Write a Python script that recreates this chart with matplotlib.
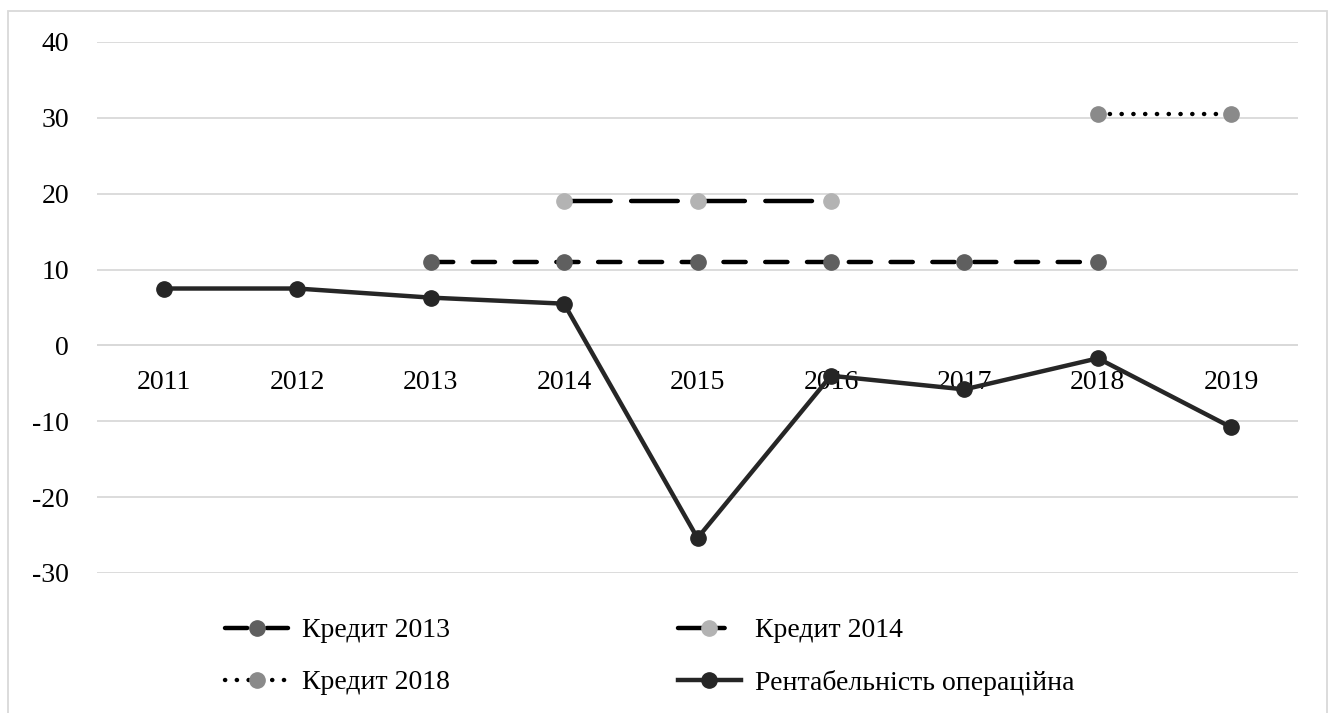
import matplotlib.pyplot as plt
import matplotlib.patches as mpatches

years = ['2011', '2012', '2013', '2014', '2015', '2016', '2017', '2018', '2019']
rent = [7.5, 7.5, 6.3, 5.5, -25.4, -4.0, -5.8, -1.7, -10.8]
credit_2013 = [None, None, 11, 11, 11, 11, 11, 11, None]
credit_2014 = [None, None, None, 19, 19, 19, None, None, None]
credit_2018 = [None, None, None, None, None, None, None, 30.5, 30.5]

plt.rcParams['font.family'] = ['Liberation Serif', 'DejaVu Serif']
plt.rcParams['axes.unicode_minus'] = False

fs = 20
fig = plt.figure(figsize=(13.32, 7.13), dpi=100)
ax = fig.add_axes([0.0728, 0.1964, 0.9017, 0.7447])

x = list(range(len(years)))


def pts(vals):
    xs = [i for i, v in zip(x, vals) if v is not None]
    ys = [v for v in vals if v is not None]
    return xs, ys


lw = 3.2
ms = 11
xs, ys = pts(credit_2013)
h13, = ax.plot(xs, ys, color='black', lw=lw, dashes=(5.0, 4.4), dash_capstyle='round',
               marker='o', ms=ms, mfc='#5f5f5f', mec='#5f5f5f', label='Кредит 2013', zorder=3)
xs, ys = pts(credit_2014)
h14, = ax.plot(xs, ys, color='black', lw=lw, dashes=(10.5, 4.6), dash_capstyle='round',
               marker='o', ms=ms, mfc='#b3b3b3', mec='#b3b3b3', label='Кредит 2014', zorder=3)
xs, ys = pts(credit_2018)
h18, = ax.plot(xs, ys, color='black', lw=lw, dashes=(0.05, 2.6), dash_capstyle='round',
               marker='o', ms=ms, mfc='#8a8a8a', mec='#8a8a8a', label='Кредит 2018', zorder=3)
hr, = ax.plot(x, rent, color='#262626', lw=lw, marker='o', ms=ms,
              mfc='#262626', mec='#262626', label='Рентабельність операційна', zorder=4)

ax.set_xlim(-0.5, len(years) - 0.5)
ax.set_ylim(-30, 40)
ax.set_yticks(range(-30, 41, 10))
ax.yaxis.grid(True, color='#d9d9d9', lw=1.3)
ax.set_axisbelow(True)
ax.tick_params(axis='y', length=0, pad=20, labelsize=fs)
ax.set_xticks([])
for s in ax.spines.values():
    s.set_visible(False)
ax.axhline(0, color='#d9d9d9', lw=1.3, zorder=1)

# year labels sit just under the zero line
for i, yr in enumerate(years):
    ax.annotate(yr, (i, 0), xytext=(0, -18), textcoords='offset points',
                ha='center', va='top', fontsize=fs, zorder=2)

fig.legend(handles=[h13, h18, h14, hr], ncol=2, loc='upper left',
           bbox_to_anchor=(0.1689, 0.1332), frameon=False, fontsize=fs,
           borderpad=0, borderaxespad=0,
           handlelength=2.27, handletextpad=0.5, columnspacing=8.2,
           labelspacing=0.95)

fig.add_artist(mpatches.Rectangle((8 / 1332, -0.01), 1319 / 1332, 1 - 11 / 713 + 0.01,
                                  transform=fig.transFigure, fill=False,
                                  ec='#d9d9d9', lw=1.3))

fig.savefig('out.png', dpi=100)
